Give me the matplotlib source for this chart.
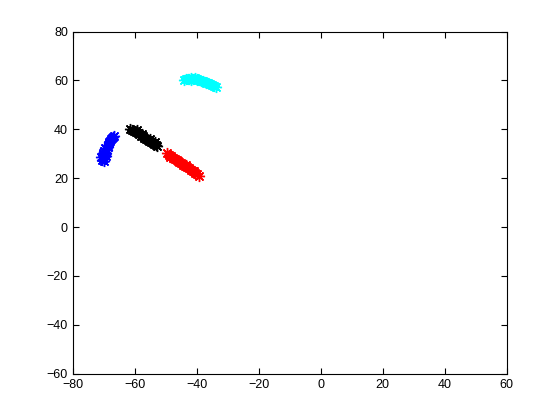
import matplotlib
matplotlib.use("Agg")
import matplotlib.pyplot as plt

plt.rcParams['font.family'] = ['Liberation Sans', 'DejaVu Sans']

blue_x = [-70.6, -70.9, -70.2, -69.8, -70.4, -69.6, -69.9, -69.3, -69.0, -69.5,
          -68.8, -68.5, -68.2, -68.4, -67.9, -67.6, -67.3, -67.0, -66.8, -70.0, -69.2]
blue_y = [27.6, 28.7, 29.3, 28.1, 30.2, 29.6, 31.0, 30.5, 31.7, 32.3,
          32.9, 33.5, 34.2, 34.8, 35.3, 35.9, 36.4, 37.0, 37.4, 27.2, 28.9]

black_x = [-61.5, -60.8, -60.2, -59.6, -59.0, -58.5, -58.0, -57.4, -56.9, -56.3,
           -55.8, -55.3, -54.7, -54.2, -53.7, -53.2, -52.9, -59.3, -57.7, -55.0, -53.5]
black_y = [40.1, 39.7, 39.2, 38.9, 38.3, 38.0, 37.4, 37.1, 36.6, 36.2,
           35.7, 35.3, 35.0, 34.5, 34.1, 33.7, 33.2, 39.6, 37.9, 35.9, 34.8]

red_x = [-49.6, -49.0, -48.3, -47.7, -47.0, -46.4, -45.7, -45.1, -44.4, -43.8,
         -43.1, -42.5, -41.8, -41.2, -40.6, -40.0, -39.4, -48.6, -46.0, -43.5, -41.0]
red_y = [30.2, 29.5, 29.1, 28.4, 27.9, 27.3, 26.8, 26.2, 25.6, 25.1,
         24.5, 24.0, 23.4, 22.9, 22.3, 21.7, 21.1, 28.8, 27.0, 25.4, 23.0]

cyan_x = [-44.2, -43.6, -43.0, -42.4, -41.8, -41.2, -40.6, -40.0, -39.3, -38.7,
          -38.1, -37.5, -36.9, -36.3, -35.7, -35.1, -34.5, -33.9, -42.0, -39.8]
cyan_y = [60.0, 60.4, 60.7, 60.5, 60.9, 60.6, 60.8, 60.4, 60.3, 59.9,
          59.8, 59.4, 59.1, 58.8, 58.5, 58.1, 57.7, 57.3, 60.1, 60.0]

x_ticks = [-80, -60, -40, -20, 0, 20, 40, 60]
y_ticks = [-60, -40, -20, 0, 20, 40, 60, 80]

fig = plt.figure(figsize=(5.6, 4.2), dpi=100)
ax = fig.add_axes([0.13, 0.11, 0.775, 0.815])

for xs, ys, c in [(blue_x, blue_y, 'blue'), (black_x, black_y, 'black'),
                  (red_x, red_y, 'red'), (cyan_x, cyan_y, 'cyan')]:
    ax.plot(xs, ys, linestyle='none', marker=(8, 2, 0), color=c,
            markersize=8, markeredgewidth=1.0)

ax.set_xlim(-80, 60)
ax.set_ylim(-60, 80)
ax.set_xticks(x_ticks)
ax.set_yticks(y_ticks)
ax.tick_params(direction='in', top=True, right=True, labelsize=9, length=4)
for s in ax.spines.values():
    s.set_linewidth(0.8)

fig.savefig('out.png', dpi=100)
